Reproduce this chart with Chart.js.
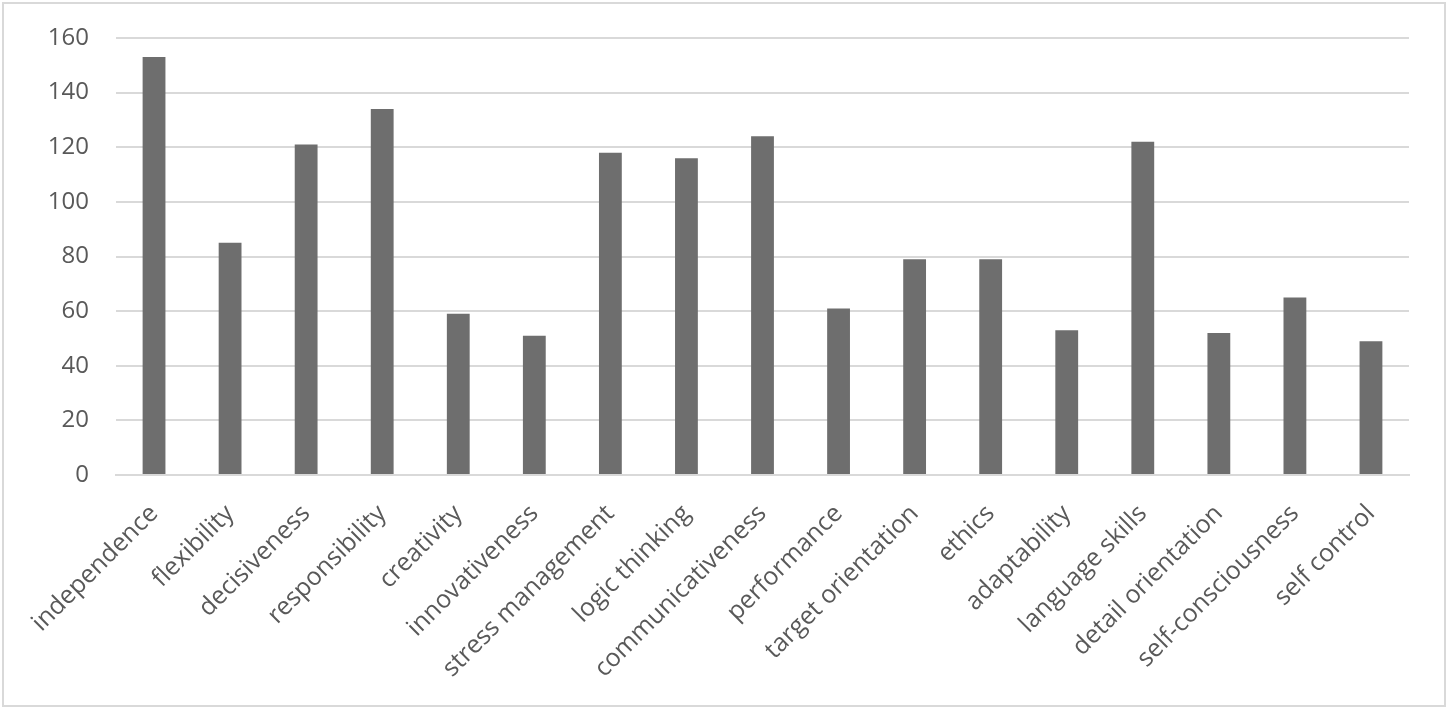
<!DOCTYPE html>
<html>
<head>
<meta charset="utf-8">
<script src="https://cdn.jsdelivr.net/npm/chart.js@4.4.1/dist/chart.umd.min.js"></script>
<style>
  html, body { margin: 0; padding: 0; background: #fff; }
  #wrap { position: relative; width: 1448px; height: 709px; }
  #frame { position: absolute; left: 2px; top: 2px; width: 1440px; height: 701px; border: 2px solid #d9d9d9; pointer-events: none; }
  canvas { position: absolute; left: 0; top: 0; }
</style>
</head>
<body>
<div id="wrap">
  <canvas id="chart" width="1448" height="709"></canvas>
  <div id="frame"></div>
</div>
<script>
// datos
const categories = [
  'independence', 'flexibility', 'decisiveness', 'responsibility', 'creativity',
  'innovativeness', 'stress management', 'logic thinking', 'communicativeness',
  'performance', 'target orientation', 'ethics', 'adaptability', 'language skills',
  'detail orientation', 'self-consciousness', 'self control'
];
const counts = [153, 85, 121, 134, 59, 51, 118, 116, 124, 61, 79, 79, 53, 122, 52, 65, 49];
const yTicks = [0, 20, 40, 60, 80, 100, 120, 140, 160];

const textColor = '#595959';
const gridColor = '#d9d9d9';

const ctx = document.getElementById('chart').getContext('2d');
new Chart(ctx, {
  type: 'bar',
  data: {
    labels: categories,
    datasets: [{
      data: counts,
      backgroundColor: '#6e6e6e',
      borderWidth: 0,
      barPercentage: 0.3,
      categoryPercentage: 1
    }]
  },
  options: {
    responsive: false,
    animation: false,
    layout: { padding: { top: 38, right: 39, left: 0, bottom: 0 } },
    plugins: { legend: { display: false }, tooltip: { enabled: false } },
    scales: {
      x: {
        grid: { display: false },
        border: { display: true, color: gridColor, width: 2 },
        ticks: {
          color: textColor,
          font: { family: 'Open Sans', size: 25 },
          minRotation: 45,
          maxRotation: 45,
          padding: 16,
          autoSkip: false
        },
        afterFit: function(scale) { scale.height = 709 - 475; }
      },
      y: {
        min: 0,
        max: 160,
        afterBuildTicks: function(scale) { scale.ticks = yTicks.map(v => ({ value: v })); },
        grid: { color: gridColor, lineWidth: 2, drawTicks: false },
        border: { display: false },
        ticks: {
          color: textColor,
          font: { family: 'Open Sans', size: 24 },
          padding: 27
        },
        afterFit: function(scale) {
          scale.width = 116;
          scale.paddingTop = 0;
          scale.paddingBottom = 0;
        }
      }
    }
  }
});
</script>
</body>
</html>
